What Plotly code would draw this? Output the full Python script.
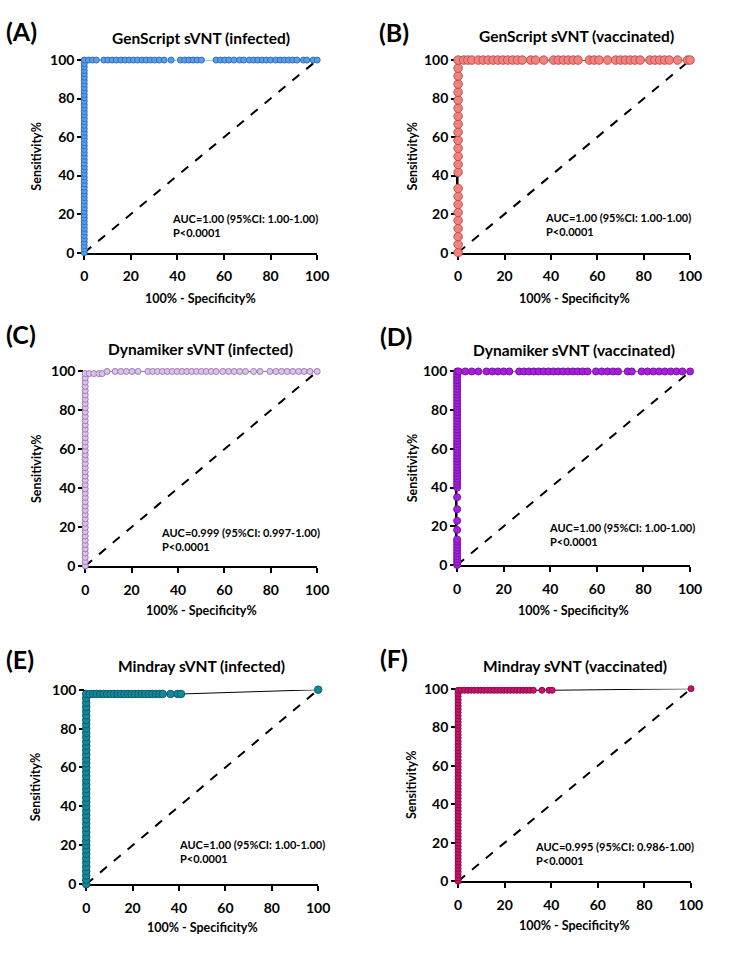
import plotly.graph_objects as go

W, H = 751, 958

# ---------------- data ----------------
titles = ["GenScript sVNT (infected)", "GenScript sVNT (vaccinated)",
          "Dynamiker sVNT (infected)", "Dynamiker sVNT (vaccinated)",
          "Mindray sVNT (infected)", "Mindray sVNT (vaccinated)"]
letters = ["(A)", "(B)", "(C)", "(D)", "(E)", "(F)"]
auc_texts = ["AUC=1.00 (95%CI: 1.00-1.00)", "AUC=1.00 (95%CI: 1.00-1.00)",
             "AUC=0.999 (95%CI: 0.997-1.00)", "AUC=1.00 (95%CI: 1.00-1.00)",
             "AUC=1.00 (95%CI: 1.00-1.00)", "AUC=0.995 (95%CI: 0.986-1.00)"]
p_text = "P<0.0001"
tick_vals = [0, 20, 40, 60, 80, 100]
tick_text = ["0", "20", "40", "60", "80", "100"]

# A: GenScript infected
A_vert_sens = [0, 1.8, 3.6, 5.4, 7.1, 8.9, 10.7, 12.5, 14.3, 16.1, 17.9, 19.6, 21.4, 23.2, 25, 26.8, 28.6,
               30.4, 32.1, 33.9, 35.7, 37.5, 39.3, 41.1, 42.9, 44.6, 46.4, 48.2, 50, 51.8, 53.6, 55.4, 57.1,
               58.9, 60.7, 62.5, 64.3, 66.1, 67.9, 69.6, 71.4, 73.2, 75, 76.8, 78.6, 80.4, 82.1, 83.9, 85.7,
               87.5, 89.3, 91.1, 92.9, 94.6, 96.4, 98.2]
A_top_fpr = [0, 1.8, 3.5, 5.2, 8.4, 10.2, 12, 13.8, 15.7, 17.5, 19.3, 21.1, 22.9, 24.8, 26.6, 28.4, 30.2,
             32.2, 34.3, 37.3, 41.3, 43.1, 44.9, 46.7, 48.5, 50.3, 56.6, 58.5, 60.3, 62.1, 64.3, 66.7, 68.5,
             70.9, 72.7, 74.5, 76.4, 78.2, 80, 82.2, 84.1, 85.9, 87.7, 89.5, 91.3, 94.1, 95.5, 98.3, 100]
A_top_sens = [100] * len(A_top_fpr)

# B: GenScript vaccinated
B_vert_sens = [0, 4.2, 8.3, 12.5, 16.7, 20.8, 25, 29.2, 33.3, 41.7, 45.8, 50, 54.2, 58.3, 62.5, 66.7, 70.8,
               75, 79.2, 83.3, 87.5, 91.7, 95.8]
B_top_fpr = [0, 2.4, 4.2, 5.9, 8.7, 10.8, 13, 15.1, 17.2, 19.3, 21.4, 23.5, 25.6, 27.7, 31.3, 33.4, 36.9,
             41.1, 43.2, 45.4, 47.5, 49.6, 51.7, 56.6, 58.7, 60.8, 64.4, 67.9, 70, 72.1, 74.2, 76.3, 78.5,
             82.7, 84.8, 86.9, 89, 91.1, 94.6, 98.9, 100]
B_top_sens = [100] * len(B_top_fpr)

# C: Dynamiker infected
C_vert_sens = [0, 2.2, 4.4, 6.6, 8.8, 11, 13.2, 15.4, 17.6, 19.8, 22, 24.2, 26.4, 28.6, 30.8, 33, 35.2, 37.4,
               39.6, 41.8, 44, 46.2, 48.4, 50.5, 52.7, 54.9, 57.1, 59.3, 61.5, 63.7, 65.9, 68.1, 70.3, 72.5,
               74.7, 76.9, 79.1, 81.3, 83.5, 85.7, 87.9, 90.1, 92.3, 94.5, 96.7, 98.9]
C_top_fpr = [1.7, 3.7, 5.9, 7.3, 9.4, 12.9, 15.3, 17.8, 20.2, 22.8, 27, 29.1, 31.2, 33.3, 35.4, 37.5, 39.6,
             41.7, 43.8, 45.9, 48, 50.1, 52.2, 54.3, 56.4, 59.3, 61.8, 64.2, 66.6, 69.1, 72.6, 75.4, 79.6,
             82.2, 84.6, 87.1, 89.5, 92, 94.4, 96.9, 100]
C_top_sens = [98.9, 98.9, 98.9, 98.9] + [100] * 37

# D: Dynamiker vaccinated
D_vert_sens = [0, 1.5, 3, 4.5, 6, 7.5, 9, 10.5, 12, 13.2, 18.1, 22.8, 28.8, 35, 40, 41.5, 43, 44.5, 46, 47.5,
               49, 50.5, 52, 53.5, 55, 56.5, 58, 59.5, 61, 62.5, 64, 65.5, 67, 68.5, 70, 71.5, 73, 74.5, 76,
               77.5, 79, 80.5, 82, 83.5, 85, 86.5, 88, 89.5, 91, 92.5, 94, 95.5, 97, 98.5]
D_top_fpr = [0, 0.7, 3.5, 6.3, 9.1, 12.6, 15.1, 17.5, 20, 22.4, 26.6, 28.7, 30.8, 32.9, 35, 37.1, 39.2, 41.3,
             43.4, 45.5, 47.6, 49.7, 51.8, 53.9, 56, 59.6, 62.1, 64.5, 66.9, 69.1, 73.2, 75, 79.2, 81.7,
             84.2, 86.7, 89.2, 91.7, 94.2, 96.7, 100]
D_top_sens = [100] * len(D_top_fpr)

# E: Mindray infected
E_vert_sens = [0, 2.2, 4.4, 6.7, 8.9, 11.1, 13.3, 15.6, 17.8, 20, 22.2, 24.4, 26.7, 28.9, 31.1, 33.3, 35.6,
               37.8, 40, 42.2, 44.4, 46.7, 48.9, 51.1, 53.3, 55.6, 57.8, 60, 62.2, 64.4, 66.7, 68.9, 71.1,
               73.3, 75.6, 77.8, 80, 82.2, 84.4, 86.7, 88.9, 91.1, 93.3, 95.6, 97.8]
E_top_fpr = [1.5, 3, 4.5, 6, 7.5, 9, 10.5, 12, 13.5, 15, 16.5, 18, 19.5, 21, 22.5, 24, 25.5, 27, 28.5, 30,
             31.5, 33, 36.4, 39.4, 40.9, 100]
E_top_sens = [97.8] * 25 + [100]

# F: Mindray vaccinated
F_vert_sens = [0, 1.7, 3.3, 5, 6.6, 8.3, 9.9, 11.6, 13.2, 14.9, 16.5, 18.2, 19.8, 21.5, 23.1, 24.8, 26.4,
               28.1, 29.8, 31.4, 33.1, 34.7, 36.4, 38, 39.7, 41.3, 43, 44.6, 46.3, 47.9, 49.6, 51.2, 52.9,
               54.5, 56.2, 57.9, 59.5, 61.2, 62.8, 64.5, 66.1, 67.8, 69.4, 71.1, 72.7, 74.4, 76, 77.7, 79.3,
               81, 82.6, 84.3, 86, 87.6, 89.3, 90.9, 92.6, 94.2, 95.9, 97.5, 99.2]
F_top_fpr = [1.4, 2.8, 4.2, 5.6, 7, 8.4, 9.8, 11.2, 12.6, 14, 15.4, 16.8, 18.2, 19.6, 21, 22.4, 23.8, 25.2,
             26.6, 28, 29.4, 30.8, 32.3, 36, 39, 40.4, 100]
F_top_sens = [99.2] * 26 + [100]

vert = [A_vert_sens, B_vert_sens, C_vert_sens, D_vert_sens, E_vert_sens, F_vert_sens]
top_fpr = [A_top_fpr, B_top_fpr, C_top_fpr, D_top_fpr, E_top_fpr, F_top_fpr]
top_sens = [A_top_sens, B_top_sens, C_top_sens, D_top_sens, E_top_sens, F_top_sens]
diag_x = [0, 100]
diag_y = [0, 100]

# ---------------- styles ----------------
fills = ["#5c9ee6", "#f2827f", "#dcc2ea", "#a61fdf", "#15879a", "#cc1168"]
edges = ["#2f6fc0", "#c0504e", "#9e7cb6", "#7a12a8", "#0c5f6e", "#8e0c4a"]
conn = ["#5c9ee6", "black", "black", "black", "black", "black"]
msize = [6, 8.5, 6, 7, 7.5, 6]

# plot areas in pixels: (x0, x1, ytop, ybottom)
boxes = [(82, 320, 52, 248), (464, 701, 52, 248),
         (83, 320, 369, 567), (463, 701, 369, 566),
         (84, 321, 693, 891), (464, 702, 692, 888)]
title_pos = [(201, 30), (585, 27), (201, 346), (582, 347), (202, 669), (583, 669)]
letter_pos = [(0, 22), (381, 23), (0, 331), (382, 333), (0, 662), (382, 661)]
auc_pos = [(170, 213), (551, 212), (158, 532), (555, 527), (177, 850), (541, 852)]
xt_y = [295, 295, 612, 612, 935, 933]
yt_x = [33, 417, 33, 417, 33, 417]

FONT = "Lato"

def px(x):
    return x / W

def py(y):
    return 1 - y / H

fig = go.Figure()
annotations = []
for i in range(6):
    ax = "" if i == 0 else str(i + 1)
    xa, ya = "x" + ax, "y" + ax
    x0, x1, yt, yb = boxes[i]
    fpr = [0] * len(vert[i]) + top_fpr[i]
    sens = vert[i] + top_sens[i]
    # diagonal reference line
    fig.add_trace(go.Scatter(x=diag_x, y=diag_y, mode="lines", xaxis=xa, yaxis=ya,
                             line=dict(color="black", width=2, dash="dash"),
                             showlegend=False, hoverinfo="skip", cliponaxis=False))
    # ROC curve
    fig.add_trace(go.Scatter(x=fpr, y=sens, mode="lines+markers", xaxis=xa, yaxis=ya,
                             line=dict(color=conn[i], width=1),
                             marker=dict(size=msize[i], color=fills[i], line=dict(color=edges[i], width=1)),
                             showlegend=False, cliponaxis=False))
    common = dict(range=[0, 100], showgrid=False, zeroline=False, showline=True,
                  linecolor="black", linewidth=2, ticks="outside", ticklen=5, tickwidth=2,
                  tickcolor="black", tickvals=tick_vals, ticktext=tick_text,
                  tickfont=dict(family=FONT, size=14, color="black", weight="bold"),
                  layer="below traces", fixedrange=True)
    fig.update_layout(**{
        ("xaxis" + ax): dict(domain=[px(x0), px(x1)], anchor=ya, ticklabelstandoff=5, **common),
        ("yaxis" + ax): dict(domain=[py(yb), py(yt)], anchor=xa, **common),
    })
    cx = (x0 + x1) / 2
    cy = (yt + yb) / 2
    annotations += [
        dict(text=titles[i], x=px(title_pos[i][0]), y=py(title_pos[i][1]), xref="paper", yref="paper",
             showarrow=False, xanchor="center", yanchor="middle",
             font=dict(family=FONT, size=15.5, color="black", weight="bold")),
        dict(text=letters[i], x=px(letter_pos[i][0]), y=py(letter_pos[i][1]), xref="paper", yref="paper",
             showarrow=False, xanchor="left", yanchor="middle",
             font=dict(family=FONT, size=25, color="black", weight="bold")),
        dict(text=auc_texts[i] + "<br>" + p_text, x=px(auc_pos[i][0]), y=py(auc_pos[i][1] - 8),
             xref="paper", yref="paper", showarrow=False, xanchor="left", yanchor="top", align="left",
             font=dict(family=FONT, size=11, color="black", weight="bold")),
        dict(text="100% - Specificity%", x=px(cx), y=py(xt_y[i]), xref="paper", yref="paper",
             showarrow=False, xanchor="center", yanchor="middle",
             font=dict(family=FONT, size=12.5, color="black", weight="bold")),
        dict(text="Sensitivity%", x=px(yt_x[i]), y=py(cy), xref="paper", yref="paper", textangle=-90,
             showarrow=False, xanchor="center", yanchor="middle",
             font=dict(family=FONT, size=12.5, color="black", weight="bold")),
    ]

fig.update_layout(width=W, height=H, margin=dict(l=0, r=0, t=0, b=0),
                  paper_bgcolor="white", plot_bgcolor="white",
                  annotations=annotations, showlegend=False)

fig.write_html("out.html", config={"displayModeBar": False},
               post_script="document.body.style.margin='0';")
